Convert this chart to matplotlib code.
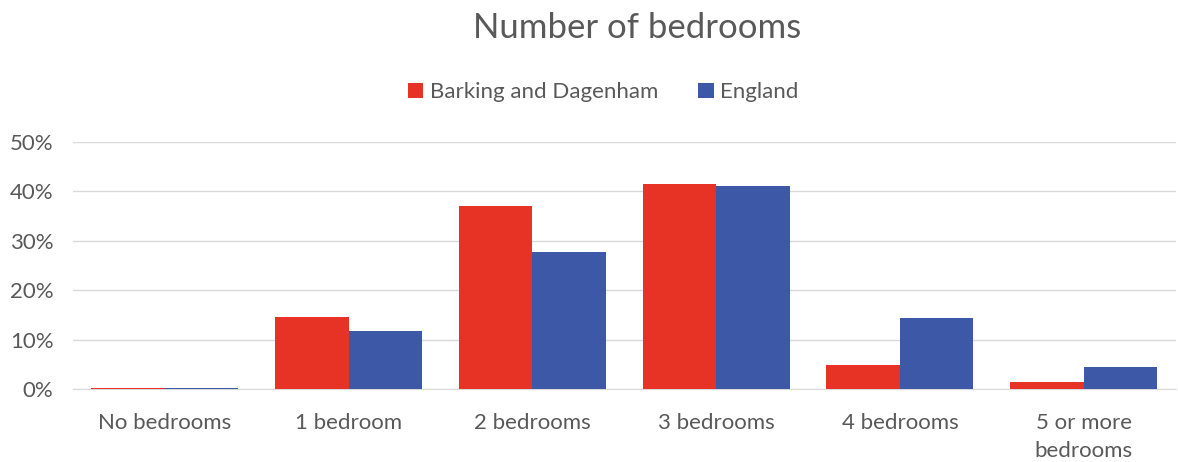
import numpy as np
import matplotlib
matplotlib.use('Agg')
import matplotlib.pyplot as plt
from matplotlib.ticker import PercentFormatter

# Data
categories = ['No bedrooms', '1 bedroom', '2 bedrooms', '3 bedrooms', '4 bedrooms', '5 or more\nbedrooms']
barking = [0.2, 14.6, 37.0, 41.5, 4.9, 1.4]
england = [0.2, 11.7, 27.7, 41.1, 14.4, 4.5]

plt.rcParams['font.family'] = ['Lato', 'DejaVu Sans']
text_col = '#595959'

fig = plt.figure(figsize=(11.78, 4.62), dpi=100)
ax = fig.add_axes([0.062, 0.158, 0.936, 0.535])

x = np.arange(len(categories))
w = 0.4
ax.bar(x - w / 2, barking, w, color='#E63325', label='Barking and Dagenham', zorder=3)
ax.bar(x + w / 2, england, w, color='#3C58A6', label='England', zorder=3)

ax.set_ylim(0, 50)
ax.set_xlim(-0.5, len(categories) - 0.5)
ax.set_yticks(range(0, 51, 10))
ax.yaxis.set_major_formatter(PercentFormatter(decimals=0))
ax.set_xticks(x)
ax.set_xticklabels(categories, linespacing=1.5)
ax.grid(axis='y', color='#D9D9D9', linewidth=1, zorder=0)
ax.tick_params(axis='both', length=0, labelsize=16, colors=text_col)
ax.tick_params(axis='x', pad=17)
ax.tick_params(axis='y', pad=14)
for s in ['top', 'right', 'left']:
    ax.spines[s].set_visible(False)
ax.spines['bottom'].set_color('#D9D9D9')

fig.text(0.541, 0.94, 'Number of bedrooms', ha='center', va='center', fontsize=25, color=text_col)
fig.legend(loc='center', bbox_to_anchor=(0.512, 0.8), ncol=2, frameon=False,
           fontsize=16, labelcolor=text_col, handlelength=0.7, handleheight=0.7,
           handletextpad=0.3, columnspacing=1.8)

fig.savefig('out.png', dpi=100)
